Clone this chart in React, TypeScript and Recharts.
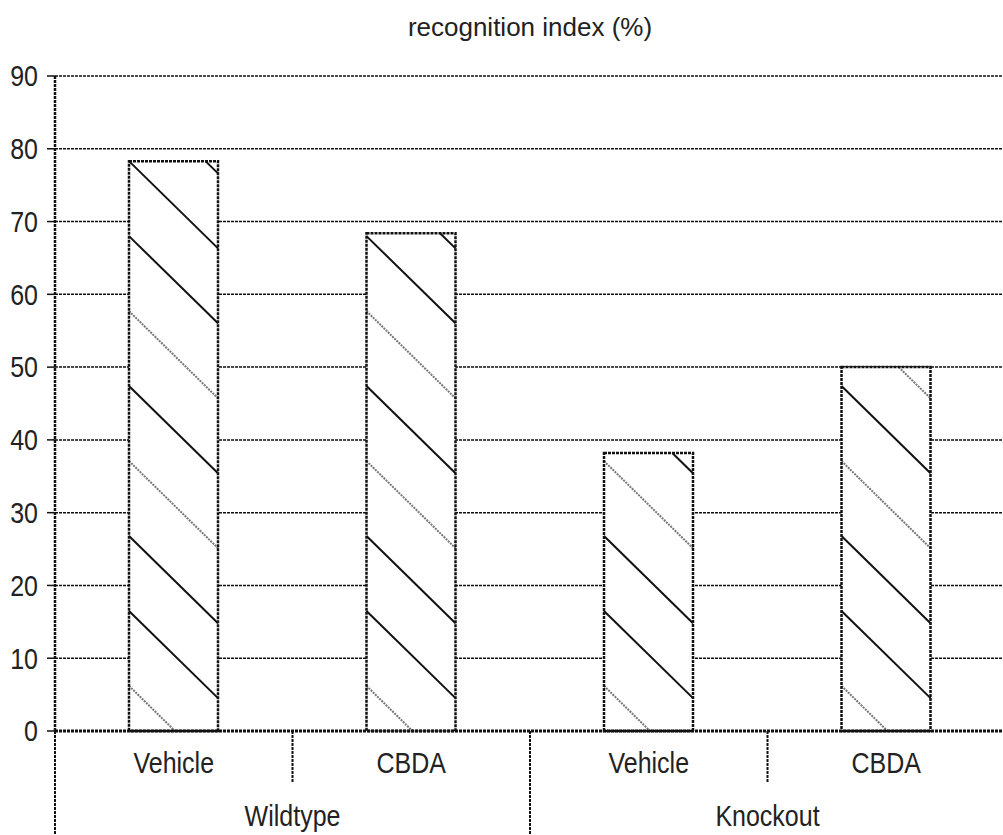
import React from 'react';
import { BarChart, Bar, XAxis, YAxis, CartesianGrid } from 'recharts';

const treatments = ['Vehicle', 'CBDA', 'Vehicle', 'CBDA'];
const genotypes = ['Wildtype', 'Wildtype', 'Knockout', 'Knockout'];
const recognitionIndex = [78.3, 68.4, 38.2, 50.0];
const yTicks = [0, 10, 20, 30, 40, 50, 60, 70, 80, 90];
const title = 'recognition index (%)';

const data = treatments.map((t, i) => ({
  treatment: t,
  genotype: genotypes[i],
  value: recognitionIndex[i],
}));

const CHART_W = 1005;
const CHART_H = 835;
const Y_W = 55;
const AXIS_H = 52;
const BAND = (CHART_W - Y_W) / treatments.length;
const FONT = '"Liberation Sans", Arial, sans-serif';
const INK = '#111';
const STRETCH = 1.15;
// hatch strokes that print lighter in the scan
const LIGHT_HATCH = [0, 3, 5];

const YTick = (props: any) => {
  const { x, y, payload } = props;
  return (
    <g transform={`translate(${x},${y}) scale(1,${STRETCH})`}>
      <text x={0} y={0} dy="0.36em" textAnchor="end" fontSize={25} fontFamily={FONT} fill="#222">
        {payload.value}
      </text>
    </g>
  );
};

const TreatmentTick = (props: any) => {
  const { x, y, payload, index } = props;
  const right = BAND / 2;
  const endOfGroup = index % 2 === 1;
  return (
    <g>
      {index === 0 && (
        <line x1={x - right} y1={y} x2={x - right} y2={y + AXIS_H * 2} stroke={INK} strokeWidth={2} strokeDasharray="3 1" />
      )}
      <line
        x1={x + right}
        y1={y}
        x2={x + right}
        y2={y + (endOfGroup ? AXIS_H * 2 : AXIS_H)}
        stroke={INK}
        strokeWidth={2}
        strokeDasharray="3 1"
      />
      <g transform={`translate(${x},${y}) scale(1,${STRETCH})`}>
        <text x={0} y={36.5} textAnchor="middle" fontSize={25} fontFamily={FONT} fill="#222">
          {payload.value}
        </text>
      </g>
    </g>
  );
};

const GroupTick = (props: any) => {
  const { x, y, payload } = props;
  return (
    <g transform={`translate(${x},${y}) scale(1,${STRETCH})`}>
      <text x={0} y={37.5} textAnchor="middle" fontSize={25} fontFamily={FONT} fill="#222">
        {payload.value}
      </text>
    </g>
  );
};

// bar with diagonal hatching anchored to its own bottom edge
const HatchBar = (props: any) => {
  const { x, y, width, height, value } = props;
  const v = Array.isArray(value) ? value[1] - value[0] : value;
  if (!height || !v) return null;
  const unit = height / v;
  const bottom = y + height;
  const slope = 0.98;
  const lines: React.ReactNode[] = [];
  for (let k = 0; k < 40; k++) {
    const y0 = bottom - unit * (6.2 + 10.3 * k);
    const y1 = y0 + slope * width;
    if (y1 <= y) break;
    let xa = x, ya = y0, xb = x + width, yb = y1;
    if (ya < y) { xa = x + (y - y0) / slope; ya = y; }
    if (yb > bottom) { xb = x + (bottom - y0) / slope; yb = bottom; }
    const light = LIGHT_HATCH.includes(k);
    lines.push(
      <line
        key={k}
        x1={xa}
        y1={ya}
        x2={xb}
        y2={yb}
        stroke={light ? '#777' : INK}
        strokeWidth={2}
        strokeDasharray={light ? '2 1' : undefined}
      />
    );
  }
  return (
    <g>
      <rect x={x} y={y} width={width} height={height} fill="#fff" />
      {lines}
      <rect x={x} y={y} width={width} height={height} fill="none" stroke={INK} strokeWidth={2.5} strokeDasharray="3 1" />
    </g>
  );
};

export default function App() {
  return (
    <div
      style={{
        position: 'absolute',
        left: 0,
        top: 0,
        width: 1003,
        height: 835,
        overflow: 'hidden',
        background: '#fff',
      }}
    >
      <div
        style={{
          position: 'absolute',
          left: Y_W,
          width: CHART_W - Y_W,
          top: 12,
          textAlign: 'center',
          fontFamily: FONT,
          fontSize: 26,
          color: '#222',
          lineHeight: '30px',
        }}
      >
        {title}
      </div>
      <BarChart
        width={CHART_W}
        height={CHART_H}
        data={data}
        margin={{ top: 76, right: 0, left: 0, bottom: 0 }}
        barSize={89}
      >
        <CartesianGrid vertical={false} stroke={INK} strokeWidth={1.5} strokeDasharray="3 1" />
        <XAxis
          dataKey="treatment"
          height={AXIS_H}
          tickLine={false}
          tickSize={0}
          tickMargin={0}
          interval={0}
          axisLine={{ stroke: INK, strokeWidth: 3, strokeDasharray: '3 1' }}
          tick={<TreatmentTick />}
        />
        <XAxis
          xAxisId="group"
          dataKey="genotype"
          allowDuplicatedCategory={false}
          height={AXIS_H}
          tickLine={false}
          tickSize={0}
          tickMargin={0}
          interval={0}
          axisLine={false}
          tick={<GroupTick />}
        />
        <YAxis
          width={Y_W}
          domain={[0, 90]}
          ticks={yTicks}
          interval={0}
          tickSize={8}
          tickMargin={9}
          tickLine={{ stroke: INK, strokeWidth: 1.5 }}
          axisLine={{ stroke: INK, strokeWidth: 2.5, strokeDasharray: '3 1' }}
          tick={<YTick />}
        />
        <Bar dataKey="value" shape={<HatchBar />} isAnimationActive={false} />
      </BarChart>
    </div>
  );
}
